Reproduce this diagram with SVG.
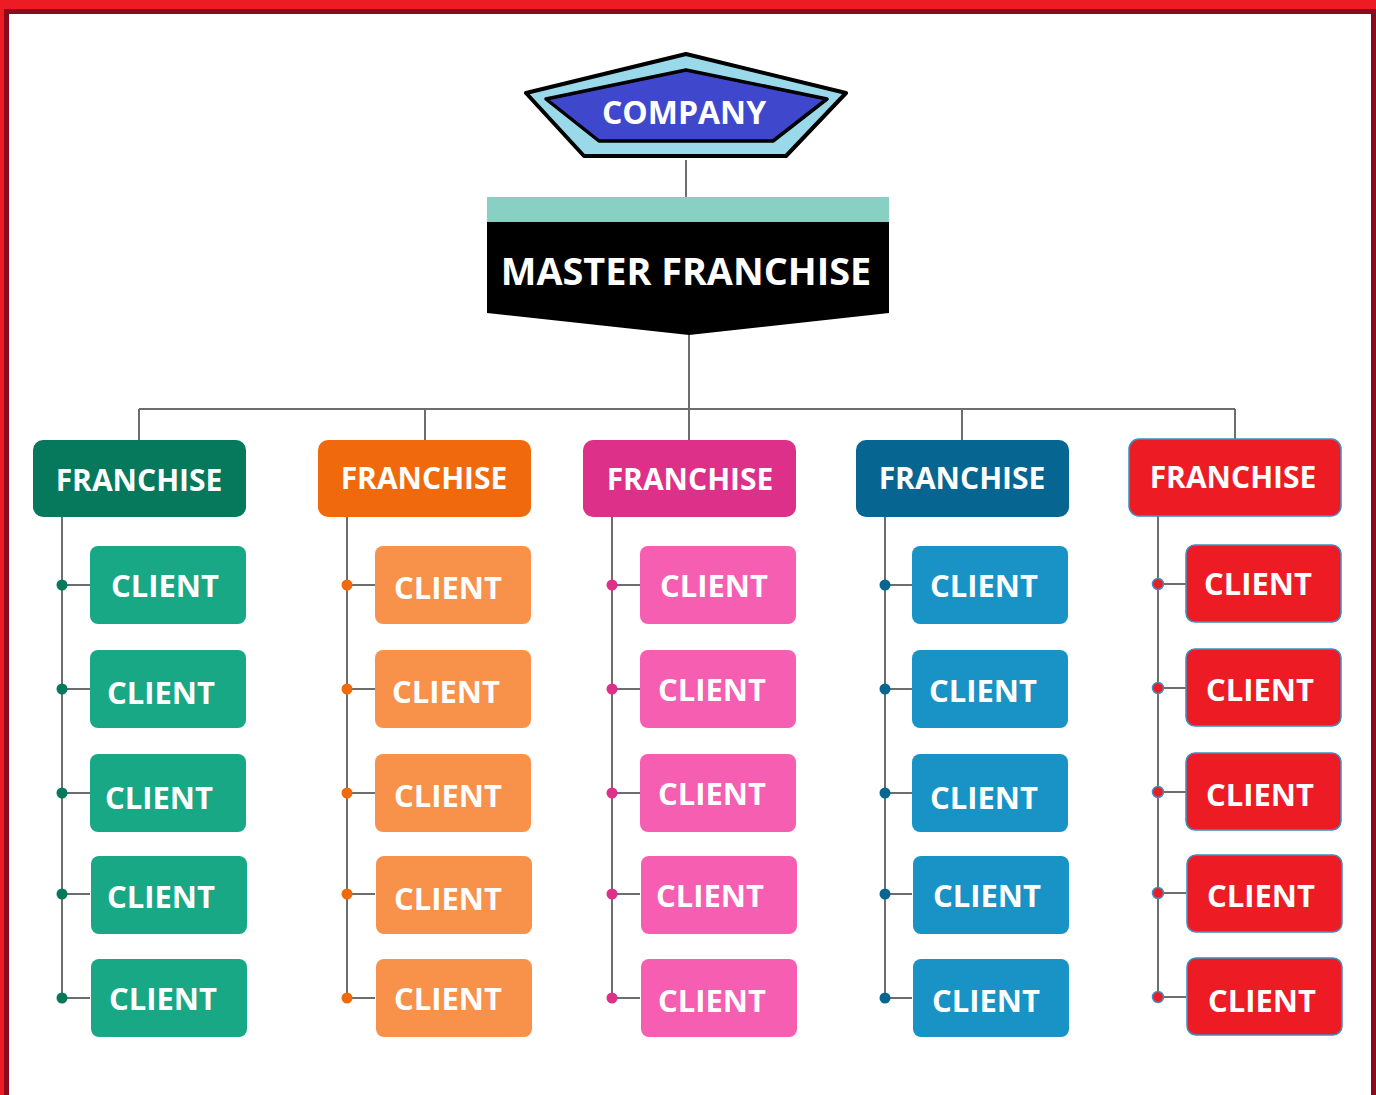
<svg xmlns="http://www.w3.org/2000/svg" width="1376" height="1095" viewBox="0 0 1376 1095">
<style>
.t{font-family:"Open Sans","Liberation Sans",sans-serif;font-weight:700;fill:#fff;text-anchor:middle}
.ct{font-size:31px}
.ft{font-size:30px}
.ln{stroke:#6d6d6d;stroke-width:2;fill:none}
.g1{fill:#06795C}.g1c{fill:#19A886}
.g2{fill:#F0690C}.g2c{fill:#F8914A}
.g3{fill:#DC3089}.g3c{fill:#F65EB1}
.g4{fill:#066691}.g4c{fill:#1993C6}
.g5{fill:#ED1C24;stroke:#3E8FC0;stroke-width:1.5}
</style>
<rect x="0" y="0" width="1376" height="1095" fill="#fff"/>
<!-- border -->
<rect x="0" y="0" width="1376" height="9" fill="#ED1C24"/>
<rect x="0" y="0" width="4" height="1095" fill="#ED1C24"/>
<rect x="4" y="9" width="1372" height="5" fill="#8A0A1E"/>
<rect x="4" y="9" width="5" height="1086" fill="#8A0A1E"/>
<rect x="1371" y="9" width="5" height="1086" fill="#8A0A1E"/>

<g id="connectors">
<line class="ln" x1="686" y1="160" x2="686" y2="197"/>
<line class="ln" x1="689" y1="335" x2="689" y2="409"/>
<line class="ln" x1="139" y1="409" x2="1235" y2="409"/>
<line class="ln" x1="139" y1="409" x2="139" y2="440"/>
<line class="ln" x1="425" y1="409" x2="425" y2="440"/>
<line class="ln" x1="689" y1="409" x2="689" y2="440"/>
<line class="ln" x1="962" y1="409" x2="962" y2="440"/>
<line class="ln" x1="1235" y1="409" x2="1235" y2="440"/>
<!-- col1 -->
<path class="ln" d="M62 517V998M62 585H90M62 689H90M62 793H90M62 894H90M62 998H90"/>
<g fill="#06795C"><circle cx="62" cy="585" r="5.5"/><circle cx="62" cy="689" r="5.5"/><circle cx="62" cy="793" r="5.5"/><circle cx="62" cy="894" r="5.5"/><circle cx="62" cy="998" r="5.5"/></g>
<!-- col2 -->
<path class="ln" d="M347 517V998M347 585H375M347 689H375M347 793H375M347 894H375M347 998H375"/>
<g fill="#F0690C"><circle cx="347" cy="585" r="5.5"/><circle cx="347" cy="689" r="5.5"/><circle cx="347" cy="793" r="5.5"/><circle cx="347" cy="894" r="5.5"/><circle cx="347" cy="998" r="5.5"/></g>
<!-- col3 -->
<path class="ln" d="M612 517V998M612 585H640M612 689H640M612 793H640M612 894H640M612 998H640"/>
<g fill="#DC3089"><circle cx="612" cy="585" r="5.5"/><circle cx="612" cy="689" r="5.5"/><circle cx="612" cy="793" r="5.5"/><circle cx="612" cy="894" r="5.5"/><circle cx="612" cy="998" r="5.5"/></g>
<!-- col4 -->
<path class="ln" d="M885 517V998M885 585H912M885 689H912M885 793H912M885 894H912M885 998H912"/>
<g fill="#066691"><circle cx="885" cy="585" r="5.5"/><circle cx="885" cy="689" r="5.5"/><circle cx="885" cy="793" r="5.5"/><circle cx="885" cy="894" r="5.5"/><circle cx="885" cy="998" r="5.5"/></g>
<!-- col5 -->
<path class="ln" d="M1158 516V997M1158 584H1186M1158 688H1186M1158 792H1186M1158 893H1186M1158 997H1186"/>
<g fill="#ED1C24" stroke="#3E8FC0" stroke-width="1.5"><circle cx="1158" cy="584" r="5.5"/><circle cx="1158" cy="688" r="5.5"/><circle cx="1158" cy="792" r="5.5"/><circle cx="1158" cy="893" r="5.5"/><circle cx="1158" cy="997" r="5.5"/></g>
</g>

<g id="company">
<polygon points="686,54 526,93 584,156 786,156 846,93" fill="#99D9EA" stroke="#000" stroke-width="4" stroke-linejoin="round"/>
<polygon points="686,70 546,99 599,141 773,141 827,99" fill="#3F48CC" stroke="#000" stroke-width="3.5" stroke-linejoin="round"/>
<text class="t" x="684" y="124" font-size="32">COMPANY</text>
</g>

<g id="master">
<rect x="487" y="197" width="402" height="26" fill="#88CFC4"/>
<path d="M487 222H889V313L689 335L487 313Z" fill="#000"/>
<text class="t" x="686" y="285" font-size="37.8">MASTER FRANCHISE</text>
</g>

<g id="franchise1"><rect class="g1" x="33" y="440" width="213" height="77" rx="10"/><text class="t ft" x="139" y="491">FRANCHISE</text></g>
<g id="franchise2"><rect class="g2" x="318" y="440" width="213" height="77" rx="10"/><text class="t ft" x="424" y="489">FRANCHISE</text></g>
<g id="franchise3"><rect class="g3" x="583" y="440" width="213" height="77" rx="10"/><text class="t ft" x="690" y="490">FRANCHISE</text></g>
<g id="franchise4"><rect class="g4" x="856" y="440" width="213" height="77" rx="10"/><text class="t ft" x="962" y="489">FRANCHISE</text></g>
<g id="franchise5"><rect class="g5" x="1129" y="439" width="212" height="77" rx="10"/><text class="t ft" x="1233" y="488">FRANCHISE</text></g>

<g id="client1-1"><rect class="g1c" x="90" y="546" width="156" height="78" rx="8"/><text class="t ct" x="165" y="597">CLIENT</text></g>
<g id="client1-2"><rect class="g1c" x="90" y="650" width="156" height="78" rx="8"/><text class="t ct" x="161" y="704">CLIENT</text></g>
<g id="client1-3"><rect class="g1c" x="90" y="754" width="156" height="78" rx="8"/><text class="t ct" x="159" y="809">CLIENT</text></g>
<g id="client1-4"><rect class="g1c" x="91" y="856" width="156" height="78" rx="8"/><text class="t ct" x="161" y="908">CLIENT</text></g>
<g id="client1-5"><rect class="g1c" x="91" y="959" width="156" height="78" rx="8"/><text class="t ct" x="163" y="1010">CLIENT</text></g>

<g id="client2-1"><rect class="g2c" x="375" y="546" width="156" height="78" rx="8"/><text class="t ct" x="448" y="599">CLIENT</text></g>
<g id="client2-2"><rect class="g2c" x="375" y="650" width="156" height="78" rx="8"/><text class="t ct" x="446" y="703">CLIENT</text></g>
<g id="client2-3"><rect class="g2c" x="375" y="754" width="156" height="78" rx="8"/><text class="t ct" x="448" y="807">CLIENT</text></g>
<g id="client2-4"><rect class="g2c" x="376" y="856" width="156" height="78" rx="8"/><text class="t ct" x="448" y="910">CLIENT</text></g>
<g id="client2-5"><rect class="g2c" x="376" y="959" width="156" height="78" rx="8"/><text class="t ct" x="448" y="1010">CLIENT</text></g>

<g id="client3-1"><rect class="g3c" x="640" y="546" width="156" height="78" rx="8"/><text class="t ct" x="714" y="597">CLIENT</text></g>
<g id="client3-2"><rect class="g3c" x="640" y="650" width="156" height="78" rx="8"/><text class="t ct" x="712" y="701">CLIENT</text></g>
<g id="client3-3"><rect class="g3c" x="640" y="754" width="156" height="78" rx="8"/><text class="t ct" x="712" y="805">CLIENT</text></g>
<g id="client3-4"><rect class="g3c" x="641" y="856" width="156" height="78" rx="8"/><text class="t ct" x="710" y="907">CLIENT</text></g>
<g id="client3-5"><rect class="g3c" x="641" y="959" width="156" height="78" rx="8"/><text class="t ct" x="712" y="1012">CLIENT</text></g>

<g id="client4-1"><rect class="g4c" x="912" y="546" width="156" height="78" rx="8"/><text class="t ct" x="984" y="597">CLIENT</text></g>
<g id="client4-2"><rect class="g4c" x="912" y="650" width="156" height="78" rx="8"/><text class="t ct" x="983" y="702">CLIENT</text></g>
<g id="client4-3"><rect class="g4c" x="912" y="754" width="156" height="78" rx="8"/><text class="t ct" x="984" y="809">CLIENT</text></g>
<g id="client4-4"><rect class="g4c" x="913" y="856" width="156" height="78" rx="8"/><text class="t ct" x="987" y="907">CLIENT</text></g>
<g id="client4-5"><rect class="g4c" x="913" y="959" width="156" height="78" rx="8"/><text class="t ct" x="986" y="1012">CLIENT</text></g>

<g id="client5-1"><rect class="g5" x="1186" y="545" width="155" height="77" rx="9"/><text class="t ct" x="1258" y="595">CLIENT</text></g>
<g id="client5-2"><rect class="g5" x="1186" y="649" width="155" height="77" rx="9"/><text class="t ct" x="1260" y="701">CLIENT</text></g>
<g id="client5-3"><rect class="g5" x="1186" y="753" width="155" height="77" rx="9"/><text class="t ct" x="1260" y="806">CLIENT</text></g>
<g id="client5-4"><rect class="g5" x="1187" y="855" width="155" height="77" rx="9"/><text class="t ct" x="1261" y="907">CLIENT</text></g>
<g id="client5-5"><rect class="g5" x="1187" y="958" width="155" height="77" rx="9"/><text class="t ct" x="1262" y="1012">CLIENT</text></g>
</svg>
